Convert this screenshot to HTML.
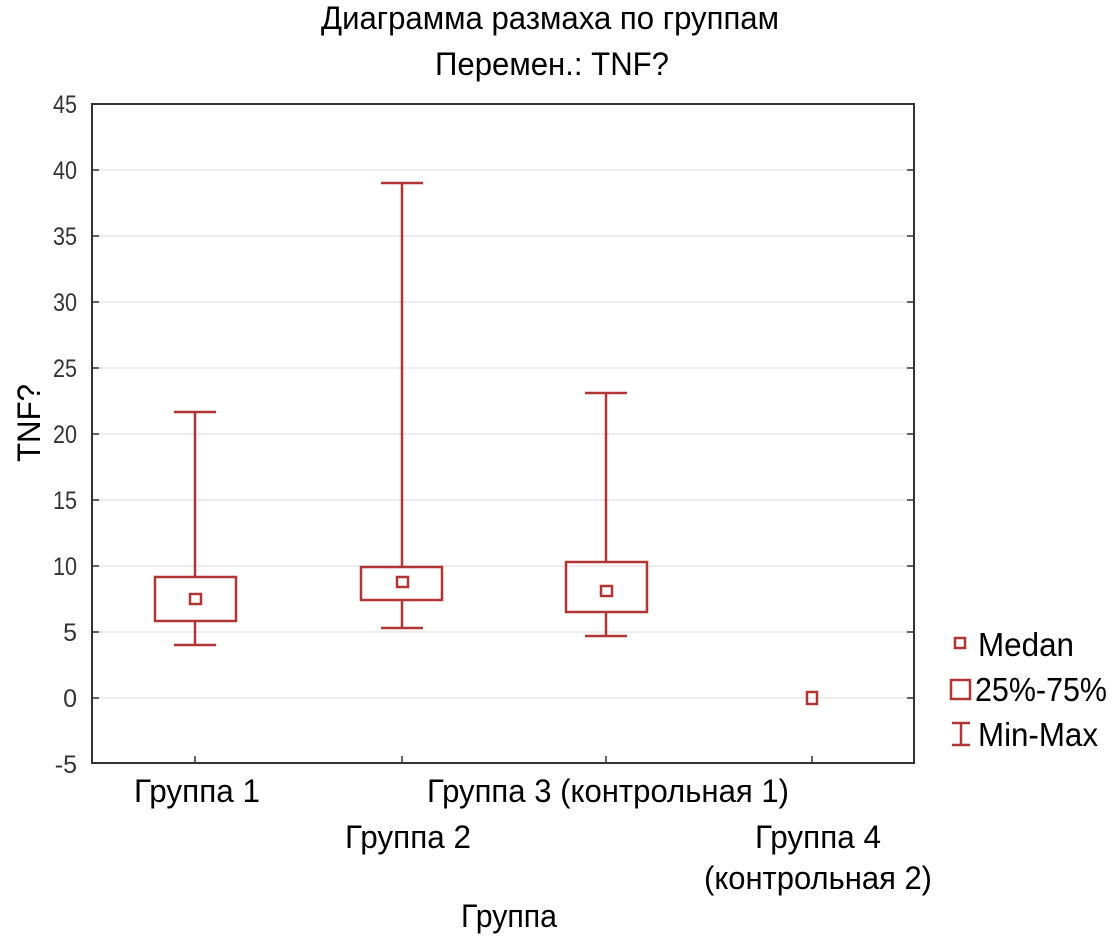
<!DOCTYPE html>
<html><head><meta charset="utf-8"><style>body{margin:0;background:#fff}svg{display:block}</style></head><body>
<svg width="1112" height="936" viewBox="0 0 1112 936" font-family="Liberation Sans, sans-serif">
<g stroke="#e6e6e6" stroke-width="1.5">
<line x1="92" x2="914" y1="170" y2="170"/><line x1="92" x2="914" y1="236" y2="236"/><line x1="92" x2="914" y1="302" y2="302"/><line x1="92" x2="914" y1="368" y2="368"/><line x1="92" x2="914" y1="434" y2="434"/><line x1="92" x2="914" y1="500" y2="500"/><line x1="92" x2="914" y1="566" y2="566"/><line x1="92" x2="914" y1="632" y2="632"/><line x1="92" x2="914" y1="698" y2="698"/>
</g>
<rect x="92" y="104" width="822" height="659" fill="none" stroke="#333" stroke-width="2"/>
<g stroke="#333" stroke-width="1.5">
<line x1="92" x2="99" y1="170" y2="170"/><line x1="92" x2="99" y1="236" y2="236"/><line x1="92" x2="99" y1="302" y2="302"/><line x1="92" x2="99" y1="368" y2="368"/><line x1="92" x2="99" y1="434" y2="434"/><line x1="92" x2="99" y1="500" y2="500"/><line x1="92" x2="99" y1="566" y2="566"/><line x1="92" x2="99" y1="632" y2="632"/><line x1="92" x2="99" y1="698" y2="698"/>
<line x1="907" x2="914" y1="170" y2="170"/><line x1="907" x2="914" y1="236" y2="236"/><line x1="907" x2="914" y1="302" y2="302"/><line x1="907" x2="914" y1="368" y2="368"/><line x1="907" x2="914" y1="434" y2="434"/><line x1="907" x2="914" y1="500" y2="500"/><line x1="907" x2="914" y1="566" y2="566"/><line x1="907" x2="914" y1="632" y2="632"/><line x1="907" x2="914" y1="698" y2="698"/>
<line x1="195" x2="195" y1="756" y2="763"/><line x1="402" x2="402" y1="756" y2="763"/><line x1="606" x2="606" y1="756" y2="763"/><line x1="812" x2="812" y1="756" y2="763"/>
</g>
<g font-size="25" fill="#333" text-anchor="end">
<text x="77" y="113" textLength="24" lengthAdjust="spacingAndGlyphs">45</text><text x="77" y="179" textLength="24" lengthAdjust="spacingAndGlyphs">40</text><text x="77" y="245" textLength="24" lengthAdjust="spacingAndGlyphs">35</text><text x="77" y="311" textLength="24" lengthAdjust="spacingAndGlyphs">30</text><text x="77" y="377" textLength="24" lengthAdjust="spacingAndGlyphs">25</text><text x="77" y="443" textLength="24" lengthAdjust="spacingAndGlyphs">20</text><text x="77" y="509" textLength="24" lengthAdjust="spacingAndGlyphs">15</text><text x="77" y="575" textLength="24" lengthAdjust="spacingAndGlyphs">10</text><text x="77" y="641">5</text><text x="77" y="707">0</text><text x="77" y="773">-5</text>
</g>
<g stroke="#b03636" stroke-width="2.5" fill="none">
<line x1="195" x2="195" y1="412" y2="577"/><line x1="195" x2="195" y1="621" y2="645"/><line x1="174" x2="216" y1="412" y2="412"/><line x1="174" x2="216" y1="645" y2="645"/>
<rect x="155" y="577" width="81" height="44"/><rect x="190" y="594" width="11" height="10"/>
<line x1="402" x2="402" y1="183" y2="567"/><line x1="402" x2="402" y1="600" y2="628"/><line x1="381" x2="423" y1="183" y2="183"/><line x1="381" x2="423" y1="628" y2="628"/>
<rect x="361" y="567" width="81" height="33"/><rect x="397" y="577" width="11" height="10"/>
<line x1="606" x2="606" y1="393" y2="562"/><line x1="606" x2="606" y1="612" y2="636"/><line x1="585" x2="627" y1="393" y2="393"/><line x1="585" x2="627" y1="636" y2="636"/>
<rect x="566" y="562" width="81" height="50"/><rect x="601" y="586" width="11" height="10"/>
<rect x="807" y="692" width="10" height="12"/>
<rect x="955" y="638" width="10" height="10"/><rect x="951" y="680" width="19" height="19"/>
<line x1="961" x2="961" y1="723" y2="745"/><line x1="952" x2="970" y1="723" y2="723"/><line x1="952" x2="970" y1="745" y2="745"/>
</g>
<g font-size="33" fill="#000">
<text x="978" y="656" textLength="96" lengthAdjust="spacingAndGlyphs">Medan</text>
<text x="975" y="701" textLength="132" lengthAdjust="spacingAndGlyphs">25%-75%</text>
<text x="978" y="746" textLength="120" lengthAdjust="spacingAndGlyphs">Min-Max</text>
</g>
<g font-size="32" fill="#000" text-anchor="middle">
<text x="550" y="29" textLength="458" lengthAdjust="spacingAndGlyphs">Диаграмма размаха по группам</text>
<text x="552" y="75" textLength="234" lengthAdjust="spacingAndGlyphs">Перемен.: TNF?</text>
<text x="197" y="802" textLength="126" lengthAdjust="spacingAndGlyphs">Группа 1</text>
<text x="608" y="802" textLength="362" lengthAdjust="spacingAndGlyphs">Группа 3 (контрольная 1)</text>
<text x="408" y="848" textLength="126" lengthAdjust="spacingAndGlyphs">Группа 2</text>
<text x="818" y="848" textLength="126" lengthAdjust="spacingAndGlyphs">Группа 4</text>
<text x="818" y="889" textLength="228" lengthAdjust="spacingAndGlyphs">(контрольная 2)</text>
<text x="509" y="927" textLength="96" lengthAdjust="spacingAndGlyphs">Группа</text>
<text transform="translate(40,423) rotate(-90)" text-anchor="middle" textLength="78" lengthAdjust="spacingAndGlyphs">TNF?</text>
</g>
</svg>
</body></html>
